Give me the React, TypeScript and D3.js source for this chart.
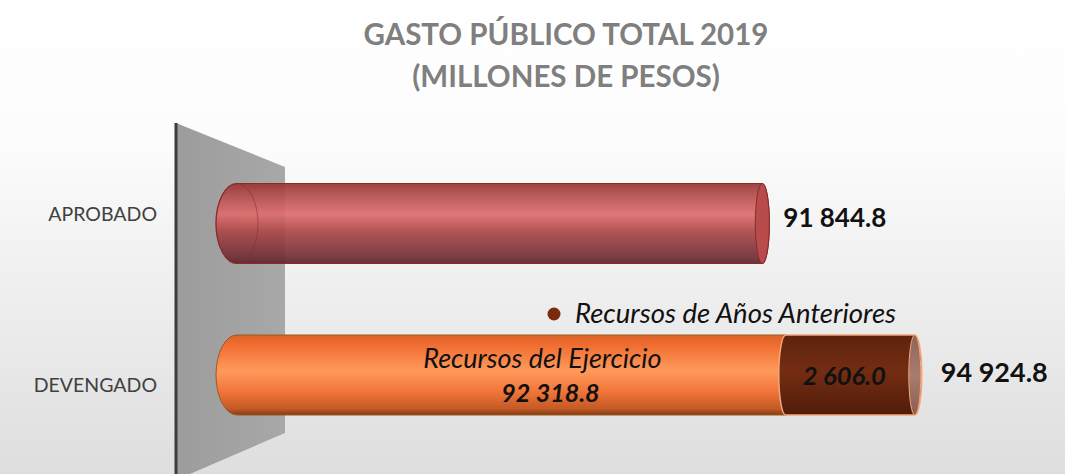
import * as d3 from "d3";

const categories = ["APROBADO", "DEVENGADO"];
const recursosEjercicio = [91844.8, 92318.8];
const recursosAnteriores = [0, 2606.0];
const legendLabel = "Recursos de Años Anteriores";
const innerLabel = "Recursos del Ejercicio";

const W = 1065;
const H = 474;
const FONT = "Lato, 'Open Sans', sans-serif";

const locale = d3.formatLocale({ decimal: ".", thousands: " ", grouping: [3], currency: ["$", ""] });
const fmt = locale.format(",.1f");

// cylinder outline: left cap wide (perspective), right cap narrow
function cylinder(xa: number, xb: number, cy: number, h: number, rxL: number, rxR: number) {
  const t = cy - h / 2;
  const b = cy + h / 2;
  const ry = h / 2;
  return `M${xa},${t}L${xb},${t}A${rxR},${ry} 0 0 1 ${xb},${b}L${xa},${b}A${rxL},${ry} 0 0 1 ${xa},${t}Z`;
}

export default function App() {
  const x = d3.scaleLinear().domain([80000, 100000]).range([176, 1166]);
  const y = d3.scalePoint<string>().domain(categories).range([223.5, 375]);
  const barH = 80;
  const depth = 61; // front plane of the bars sits in front of the wall
  const rxL = 21;
  const rxR = 7;
  const xa = x(80000) + depth;

  const totals = categories.map((_, i) => recursosEjercicio[i] + recursosAnteriores[i]);

  return (
    <svg width={W} height={H} style={{ position: "absolute", left: 0, top: 0 }} fontFamily={FONT}>
      <defs>
        <linearGradient id="bg" x1="0" y1="0" x2="0" y2="1">
          <stop offset="0" stopColor="#ffffff" />
          <stop offset="0.3" stopColor="#fcfcfc" />
          <stop offset="1" stopColor="#dedede" />
        </linearGradient>
        <linearGradient id="red" x1="0" y1="0" x2="0" y2="1">
          <stop offset="0" stopColor="#9a3434" />
          <stop offset="0.12" stopColor="#b04a4a" />
          <stop offset="0.38" stopColor="#de6e6e" />
          <stop offset="0.6" stopColor="#ac4848" />
          <stop offset="0.9" stopColor="#743238" />
          <stop offset="1" stopColor="#5e2428" />
        </linearGradient>
        <linearGradient id="orange" x1="0" y1="0" x2="0" y2="1">
          <stop offset="0" stopColor="#dc6428" />
          <stop offset="0.12" stopColor="#f06c30" />
          <stop offset="0.45" stopColor="#ff9a5c" />
          <stop offset="0.7" stopColor="#f2763a" />
          <stop offset="0.92" stopColor="#c45a24" />
          <stop offset="1" stopColor="#823c16" />
        </linearGradient>
        <linearGradient id="brown" x1="0" y1="0" x2="0" y2="1">
          <stop offset="0" stopColor="#5e220d" />
          <stop offset="0.45" stopColor="#742d13" />
          <stop offset="1" stopColor="#501c09" />
        </linearGradient>
        <linearGradient id="capBrown" x1="0" y1="0" x2="0" y2="1">
          <stop offset="0" stopColor="#8f6455" />
          <stop offset="0.5" stopColor="#a87d70" />
          <stop offset="1" stopColor="#8a5d4e" />
        </linearGradient>
        <linearGradient id="panel" x1="0" y1="0" x2="1" y2="0">
          <stop offset="0" stopColor="#9c9c9c" />
          <stop offset="1" stopColor="#a8a8a8" />
        </linearGradient>
      </defs>

      <rect width={W} height={H} fill="url(#bg)" />

      <text x={566} y={45} textAnchor="middle" fontSize={29.5} fontWeight="bold" fill="#7f7f7f">
        GASTO PÚBLICO TOTAL 2019
      </text>
      <text x={566} y={87} textAnchor="middle" fontSize={29.5} fontWeight="bold" fill="#7f7f7f">
        (MILLONES DE PESOS)
      </text>

      {/* side wall */}
      <polygon points="176,123 285,167 285,433 176,480" fill="url(#panel)" />
      <line x1={176} y1={123} x2={176} y2={H} stroke="#3c3c3c" strokeWidth={3} />

      {/* category labels */}
      {categories.map((c, i) => (
        <text
          key={c}
          x={157}
          y={(y(c) as number) + (i === 0 ? -9 : 10)}
          dy="0.35em"
          textAnchor="end"
          fontSize={19.5}
          fill="#404040"
        >
          {c}
        </text>
      ))}

      {/* bars */}
      {categories.map((c, i) => {
        const cy = y(c) as number;
        const xs = x(recursosEjercicio[i]);
        const xe = x(totals[i]);
        const stacked = recursosAnteriores[i] > 0;
        if (!stacked) {
          return (
            <g key={c}>
              <path d={cylinder(xa, xs, cy, barH, rxL, rxR)} fill="url(#red)" fillOpacity={0.93} stroke="#8a2a2a" strokeWidth={1.2} />
              <ellipse cx={xa} cy={cy} rx={rxL} ry={barH / 2} fill="none" stroke="#8a2a2a" strokeOpacity={0.55} />
              <ellipse cx={xs} cy={cy} rx={rxR} ry={barH / 2} fill="#b84c4c" stroke="#8a2a2a" strokeWidth={1} />
            </g>
          );
        }
        return (
          <g key={c}>
            <path d={cylinder(xa, xs, cy, barH, rxL, rxR)} fill="url(#orange)" stroke="#9a5a1c" strokeWidth={1} />
            <path d={cylinder(xs, xe, cy, barH, rxR, rxR)} fill="url(#brown)" stroke="#f3a57b" strokeWidth={1.5} />
            <ellipse cx={xe} cy={cy} rx={rxR - 1} ry={barH / 2} fill="url(#capBrown)" stroke="#f3a57b" strokeWidth={1} />
            <text x={(xa + xs) / 2 + 31} y={cy - 16} dy="0.35em" textAnchor="middle" fontSize={27} fontStyle="italic" fill="#111">
              {innerLabel}
            </text>
            <text x={(xa + xs) / 2 + 39} y={cy + 18} dy="0.35em" textAnchor="middle" fontSize={25} fontStyle="italic" fontWeight="bold" fill="#111">
              {fmt(recursosEjercicio[i])}
            </text>
            <text x={(xs + xe) / 2 - 6} y={cy + 1} dy="0.35em" textAnchor="middle" fontSize={25.5} fontStyle="italic" fontWeight="bold" fill="#111">
              {fmt(recursosAnteriores[i])}
            </text>
          </g>
        );
      })}

      {/* totals */}
      {categories.map((c, i) => (
        <text
          key={c}
          x={x(totals[i]) + (i === 0 ? 21 : 26)}
          y={(y(c) as number) + (i === 0 ? -6 : -2)}
          dy="0.35em"
          fontSize={i === 0 ? 26 : 27}
          fontWeight="bold"
          fill="#111"
        >
          {fmt(totals[i])}
        </text>
      ))}

      {/* legend */}
      <circle cx={554} cy={314} r={6.5} fill="#7b2a0c" />
      <text x={575} y={313} dy="0.35em" fontSize={27.5} fontStyle="italic" fill="#111">
        {legendLabel}
      </text>
    </svg>
  );
}
